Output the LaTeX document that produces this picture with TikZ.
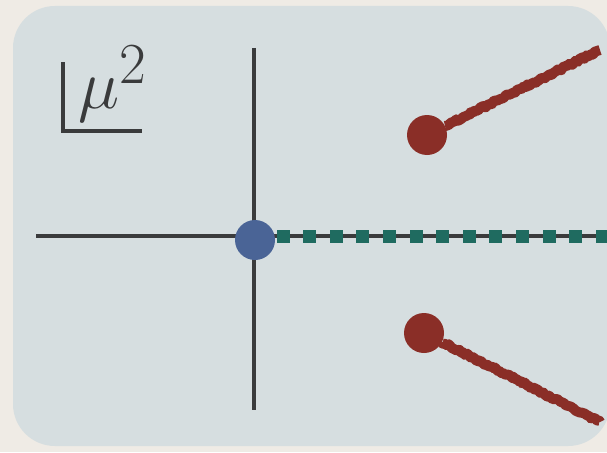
\documentclass[tikz,border=0pt]{standalone}
\usepackage{graphicx}
\usetikzlibrary{decorations.pathmorphing}

\definecolor{paper}{HTML}{EFEBE5}
\definecolor{panel}{HTML}{D6DEE0}
\definecolor{axisgrey}{HTML}{3A3B3C}
\definecolor{dotblue}{HTML}{4A6496}
\definecolor{dotred}{HTML}{8A2E27}
\definecolor{cutteal}{HTML}{1F6B60}

\tikzset{
  axis/.style={axisgrey, line width=4pt},
  dot/.style={circle, inner sep=0pt, minimum size=40pt},
  cut/.style={dotred, line width=10pt, line join=round, decorate,
    decoration={random steps, segment length=2pt, amplitude=1.2pt}},
  pole/.style={cutteal, fill, inner sep=0pt, minimum size=13pt},
}

\begin{document}
\begin{tikzpicture}[x=1pt, y=-1pt]
  \useasboundingbox (0,0) rectangle (607,452);
  \fill[paper] (0,0) rectangle (607,452);
  \fill[panel, rounded corners=42pt] (13,6) rectangle (610,446);

  % axes
  \draw [axis] (254,48) -- (254,410);
  \draw [axis] (36,236) -- (254,236);
  \draw [axis] (254,236) -- (607,236);
  \foreach \i in {0,...,12}
    \node [pole] (p\i) at (283+26.6*\i,236) {};

  % branch points
  \coordinate (upend) at (600,50);
  \coordinate (lowend) at (600,422);
  \node [dot, fill=dotred] (upper) at (427,135) {};
  \node [dot, fill=dotred] (lower) at (424,333) {};
  \draw [cut] (upper.center) ++(18,-9) -- (upend);
  \draw [cut] (lower.center) ++(18,9) -- (lowend);
  \node [dot, fill=dotblue] (origin) at (255,240) {};

  % label
  \node [axisgrey] (label) at (113,84) {\scalebox{2.8}{\Huge$\mu^2$}};
  \draw [axisgrey, line width=3.5pt] (63,62) -- (63,131) -- (142,131);
\end{tikzpicture}
\end{document}
